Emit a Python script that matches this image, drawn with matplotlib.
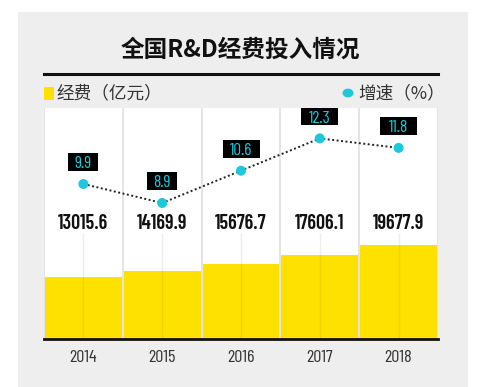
import numpy as np
import matplotlib.pyplot as plt
import matplotlib.transforms as mtransforms
from matplotlib.patches import Rectangle, Circle
from matplotlib.lines import Line2D

plt.rcParams['font.family'] = ['Noto Sans CJK SC', 'DejaVu Sans']

years = ['2014', '2015', '2016', '2017', '2018']
funds = [13015.6, 14169.9, 15676.7, 17606.1, 19677.9]   # 经费（亿元）
growth = [9.9, 8.9, 10.6, 12.3, 11.8]                   # 增速（%）

yellow = '#FFE100'
cyan = '#1DC8DC'
panel = '#EFEEEE'
num_font = ['Barlow Condensed', 'DejaVu Sans']

W, H = 483, 387
fig = plt.figure(figsize=(W / 100, H / 100), dpi=100)
fig.patch.set_facecolor('white')

# light gray card
fig.patches.append(Rectangle((18 / W, 0), 450 / W, 1 - 12 / H, transform=fig.transFigure,
                             facecolor=panel, edgecolor='none', zorder=-10))

fig.text(240 / W, 1 - 50 / H, '全国R&D经费投入情况', ha='center', va='center',
         fontsize=17, fontweight='bold', color='#111111')
fig.lines.append(Line2D([44 / W, 438 / W], [1 - 74 / H] * 2, transform=fig.transFigure,
                        color='#111111', lw=2.2))

# legend row
fig.patches.append(Rectangle((44 / W, 1 - 100 / H), 10 / W, 13 / H, transform=fig.transFigure,
                             facecolor=yellow, edgecolor='none'))
fig.text(56 / W, 1 - 93 / H, '经费（亿元）', ha='left', va='center', fontsize=12.7,
         fontweight='light', color='#333333')
fig.patches.append(Circle((348 / W, 1 - 93 / H), 5.5 / W, transform=fig.transFigure,
                          facecolor=cyan, edgecolor='none'))
fig.text(358 / W, 1 - 93 / H, '增速（%）', ha='left', va='center', fontsize=12.7,
         fontweight='light', color='#333333')

ax = fig.add_axes([44 / W, 48 / H, 394 / W, 231 / H])
ax.set_facecolor('#E4E4E4')
x = np.arange(len(years))
top = 48400
ax.set_xlim(-0.5, len(years) - 0.5)
ax.set_ylim(0, top)

# white columns, yellow bars
ax.bar(x, [top] * len(x), width=0.975, color='white', zorder=1)
ax.bar(x, funds, width=0.975, color=yellow, zorder=2)
ax.vlines(x, 0, 22200, colors=(0, 0, 0, 0.07), lw=1, zorder=3)

for xi, v in zip(x, funds):
    ax.text(xi, 24300, f'{v:.1f}', ha='center', va='center', fontsize=14.5,
            fontweight='semibold', family=num_font, color='#111111', zorder=4)

ax.axhline(0, color='#111111', lw=2, zorder=5, clip_on=False)
for s in ax.spines.values():
    s.set_visible(False)
ax.set_yticks([])
ax.set_xticks(x)
ax.set_xticklabels(years, family=num_font, fontsize=13, color='#333333')
ax.tick_params(axis='x', length=0, pad=8)

ax2 = ax.twinx()
ax2.set_ylim(1.74, 13.9)
ax2.set_yticks([])
for s in ax2.spines.values():
    s.set_visible(False)
ax2.plot(x, growth, linestyle=(0, (1, 1.3)), color='#222222', lw=1.4, zorder=3)
ax2.scatter(x, growth, s=52, color=cyan, zorder=4, edgecolors='none')

for xi, v in zip(x, growth):
    label = f'{v}'
    w = 9 + 7 * len(label)
    tr = mtransforms.ScaledTranslation(xi, v, ax2.transData)
    ax2.add_patch(Rectangle((-w / 2, 13), w, 17.5, transform=tr, facecolor='black',
                            edgecolor='none', clip_on=False, zorder=5))
    ax2.annotate(label, (xi, v), xytext=(0, 15.8), textcoords='offset pixels',
                 ha='center', va='baseline', fontsize=12.5, family=num_font,
                 color=cyan, zorder=6, annotation_clip=False)

fig.savefig('out.png', dpi=100)
